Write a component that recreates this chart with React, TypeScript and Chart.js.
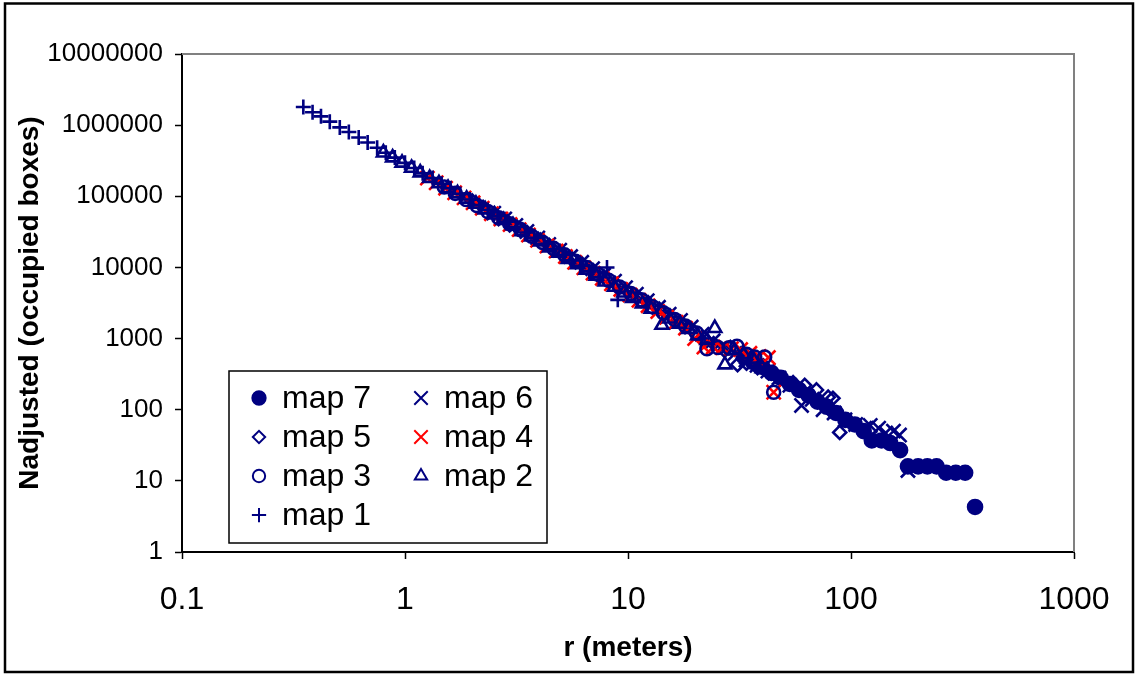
import React, { useEffect, useRef } from 'react';
import { Chart, registerables } from 'chart.js';
import { drawPoint } from 'chart.js/helpers';

Chart.register(...registerables);

const FONT = "'Liberation Sans', Arial, Helvetica, sans-serif";
const NAVY = '#000080';
const RED = '#FF0000';

const X_TICKS = [0.1, 1, 10, 100, 1000];
const Y_TICKS = [1, 10, 100, 1000, 10000, 100000, 1000000, 10000000];

const SERIES_LABELS = ['map 7', 'map 6', 'map 5', 'map 4', 'map 3', 'map 2', 'map 1'];

const MAP1_R = [0.35, 0.385, 0.42, 0.46, 0.51, 0.56, 0.62, 0.68, 0.75, 0.82, 0.9, 1.0, 1.1, 1.2, 1.33, 1.46, 1.6, 1.77, 1.95, 2.15, 2.35, 2.6, 2.85, 3.15, 3.45, 3.8, 4.2, 4.6, 5.1, 5.6, 6.1, 6.7, 7.4, 8.05, 9.0];
const MAP1_N = [1800000, 1520000, 1330000, 1120000, 930000, 800000, 670000, 570000, 480000, 410000, 350000, 295000, 250000, 210000, 180000, 150000, 130000, 108000, 90000, 75000, 64000, 53000, 44000, 37000, 31000, 26000, 21500, 18000, 15000, 12500, 10500, 8800, 7300, 10000, 3500];

const MAP2_R = [0.8, 0.88, 0.97, 1.07, 1.17, 1.29, 1.42, 1.56, 1.72, 1.89, 2.08, 2.29, 2.52, 2.77, 3.05, 3.35, 3.7, 4.05, 4.45, 4.9, 5.4, 5.95, 6.5, 7.2, 7.9, 8.7, 9.6, 10.5, 11.6, 12.7, 14.2, 15.4, 17, 18.7, 20.5, 22.6, 24.5, 27.2, 30, 33, 36.3, 40];
const MAP2_N = [410000, 350000, 295000, 250000, 215000, 180000, 152000, 130000, 110000, 92000, 78000, 65000, 55000, 46000, 39000, 32000, 27000, 23000, 19000, 16000, 13000, 11000, 9200, 7600, 6300, 5300, 4400, 3700, 3100, 2600, 1550, 1900, 1600, 1350, 1100, 950, 1400, 430, 680, 600, 520, 380];

const MAP3_R = [1.5, 1.68, 1.88, 2.1, 2.35, 2.63, 2.95, 3.3, 3.7, 4.14, 4.64, 5.2, 5.82, 6.52, 7.3, 8.18, 9.16, 10.3, 11.5, 12.9, 14.4, 16.2, 18.1, 20.3, 22.6, 25.3, 28.4, 30.8, 34, 37, 41, 45];
const MAP3_N = [135000, 110000, 90000, 74000, 61000, 50000, 41000, 34000, 27500, 22500, 18500, 15000, 12200, 10000, 8100, 6600, 5300, 4300, 3500, 2800, 2300, 1850, 1500, 1200, 720, 750, 740, 780, 600, 550, 550, 176];

const MAP4_R = [1.26, 1.38, 1.52, 1.67, 1.84, 2.02, 2.22, 2.44, 2.69, 2.96, 3.25, 3.58, 3.93, 4.33, 4.76, 5.24, 5.76, 6.34, 6.97, 7.67, 8.43, 9.28, 10.2, 11.2, 12.3, 13.6, 14.9, 16.4, 18.1, 19.9, 21.9, 24.1, 26.5, 29.1, 32, 35.2, 38.7, 42.6, 45];
const MAP4_N = [180000, 155000, 130000, 112000, 95000, 81000, 68000, 57000, 48000, 40000, 34000, 28500, 24000, 20000, 17000, 14200, 11800, 9900, 8300, 7000, 5900, 4900, 4100, 3450, 2900, 2400, 2000, 1700, 1400, 1000, 760, 760, 740, 720, 700, 620, 560, 540, 176];

const MAP5_R = [2.0, 2.24, 2.51, 2.81, 3.15, 3.53, 3.95, 4.43, 4.96, 5.55, 6.22, 6.96, 7.8, 8.73, 9.78, 11, 12.3, 13.8, 15.4, 17.2, 19.3, 21.6, 24.2, 27.1, 31, 34, 38.1, 42.7, 47.8, 55, 62, 70, 79, 83, 89];
const MAP5_N = [86000, 70000, 57000, 47000, 38000, 31000, 25000, 20500, 16800, 13700, 11200, 9100, 7400, 6000, 4900, 3900, 3200, 2600, 2100, 1700, 1350, 1050, 850, 680, 430, 450, 390, 330, 280, 240, 220, 190, 150, 145, 48];

const MAP6_R = [2.5, 2.8, 3.14, 3.52, 3.94, 4.41, 4.94, 5.53, 6.2, 6.94, 7.77, 8.7, 9.75, 10.9, 12.2, 13.7, 15.3, 17.2, 19.2, 21.5, 24.1, 27, 30.2, 33.8, 37.9, 42.4, 47.5, 53.2, 60, 67, 75, 84, 94, 105, 115, 122, 133, 143, 155, 165, 180];
const MAP6_N = [58000, 48000, 39000, 32000, 26000, 21000, 17500, 14200, 11800, 9600, 7800, 6400, 5200, 4200, 3400, 2750, 2200, 1800, 1450, 1150, 930, 760, 620, 500, 420, 350, 280, 220, 115, 140, 100, 90, 72, 62, 55, 60, 55, 47, 50, 44, 14];

const MAP7_R = [33, 36.3, 40, 44, 48.4, 53.2, 58.5, 64.4, 70.8, 77.9, 85.7, 94.3, 104, 114, 124, 137, 150, 166, 180, 200, 220, 242, 267, 295, 325, 360];
const MAP7_N = [560, 470, 400, 330, 280, 230, 190, 160, 130, 110, 90, 72, 62, 50, 37, 37, 34, 27, 16, 16, 16, 16, 13, 13, 13, 4.3];

function pts(r: number[], n: number[]) {
  return r.map((x, i) => ({ x, y: n[i] }));
}

function series(label: string, r: number[], n: number[], style: string, radius: number, color: string, fill: string, order: number) {
  return {
    label,
    data: pts(r, n),
    pointStyle: style,
    pointRadius: radius,
    pointHoverRadius: radius,
    pointBorderColor: color,
    pointBackgroundColor: fill,
    pointBorderWidth: 2.6,
    borderColor: color,
    backgroundColor: fill,
    showLine: false,
    order,
  };
}

const frameAndLegend = {
  id: 'frameAndLegend',
  beforeDatasetsDraw(chart: any) {
    const { ctx, chartArea: a } = chart;
    ctx.save();
    ctx.strokeStyle = '#808080';
    ctx.lineWidth = 2;
    ctx.beginPath();
    ctx.moveTo(a.left, a.top);
    ctx.lineTo(a.right, a.top);
    ctx.lineTo(a.right, a.bottom);
    ctx.stroke();
    ctx.restore();
  },
  afterDraw(chart: any) {
    const { ctx, chartArea: a } = chart;
    ctx.save();
    const left = a.left + 47;
    const top = a.bottom - 181;
    const w = 318;
    const h = 172;
    ctx.fillStyle = '#ffffff';
    ctx.fillRect(left, top, w, h);
    ctx.strokeStyle = '#000000';
    ctx.lineWidth = 1.5;
    ctx.strokeRect(left, top, w, h);
    ctx.font = `32px ${FONT}`;
    ctx.textBaseline = 'middle';
    ctx.textAlign = 'left';
    chart.data.datasets.forEach((ds: any, i: number) => {
      const col = i % 2;
      const row = Math.floor(i / 2);
      const mx = left + 30 + col * 162;
      const my = top + 27 + row * 39;
      ctx.fillStyle = ds.pointBackgroundColor;
      ctx.strokeStyle = ds.pointBorderColor;
      ctx.lineWidth = 2;
      drawPoint(ctx, { pointStyle: ds.pointStyle, radius: ds.pointRadius * 0.95, borderWidth: 2, rotation: 0 } as any, mx, my);
      ctx.fillStyle = '#000000';
      ctx.fillText(ds.label, mx + 23, my + 1);
    });
    ctx.strokeStyle = '#000000';
    ctx.lineWidth = 2.5;
    ctx.strokeRect(5, 3.5, 1128, 668.5);
    ctx.restore();
  },
};

export default function App() {
  const ref = useRef<HTMLCanvasElement>(null);

  useEffect(() => {
    document.body.style.margin = '0';
    const datasets = [
      series(SERIES_LABELS[0], MAP7_R, MAP7_N, 'circle', 7, NAVY, NAVY, 7),
      series(SERIES_LABELS[1], MAP6_R, MAP6_N, 'crossRot', 10, NAVY, 'transparent', 6),
      series(SERIES_LABELS[2], MAP5_R, MAP5_N, 'rectRot', 6.5, NAVY, 'transparent', 5),
      series(SERIES_LABELS[3], MAP4_R, MAP4_N, 'crossRot', 10, RED, 'transparent', 4),
      series(SERIES_LABELS[4], MAP3_R, MAP3_N, 'circle', 6.5, NAVY, 'transparent', 3),
      series(SERIES_LABELS[5], MAP2_R, MAP2_N, 'triangle', 7.5, NAVY, 'transparent', 2),
      series(SERIES_LABELS[6], MAP1_R, MAP1_N, 'cross', 7.5, NAVY, 'transparent', 1),
    ];

    const chart = new Chart(ref.current as HTMLCanvasElement, {
      type: 'scatter',
      data: { datasets } as any,
      options: {
        responsive: false,
        maintainAspectRatio: false,
        animation: false,
        devicePixelRatio: 1,
        events: [],
        layout: { padding: { top: 54, right: 62, bottom: 0, left: 0 } },
        plugins: {
          legend: { display: false },
          tooltip: { enabled: false },
        },
        scales: {
          x: {
            type: 'logarithmic',
            min: 0.1,
            max: 1000,
            afterBuildTicks: (s: any) => {
              s.ticks = X_TICKS.map((v) => ({ value: v }));
            },
            afterFit: (s: any) => {
              s.height = 123;
            },
            ticks: {
              callback: (v: any) => String(v),
              font: { family: FONT, size: 32 },
              color: '#000000',
              padding: 22,
              autoSkip: false,
              maxRotation: 0,
            },
            grid: { drawOnChartArea: false, drawTicks: true, tickLength: 7, tickColor: '#000000', tickWidth: 1.5 },
            border: { display: true, color: '#000000', width: 2 },
            title: {
              display: true,
              text: 'r (meters)',
              font: { family: FONT, size: 28, weight: 'bold' },
              color: '#000000',
              padding: { top: 0, bottom: 10 },
            },
          },
          y: {
            type: 'logarithmic',
            min: 1,
            max: 10000000,
            afterBuildTicks: (s: any) => {
              s.ticks = Y_TICKS.map((v) => ({ value: v }));
            },
            afterFit: (s: any) => {
              s.width = 182;
            },
            ticks: {
              callback: (v: any) => String(v),
              font: { family: FONT, size: 26 },
              color: '#000000',
              padding: 12,
              autoSkip: false,
            },
            grid: { drawOnChartArea: false, drawTicks: true, tickLength: 7, tickColor: '#000000', tickWidth: 1.5 },
            border: { display: true, color: '#000000', width: 2 },
            title: {
              display: true,
              text: 'Nadjusted (occupied boxes)',
              font: { family: FONT, size: 28, weight: 'bold' },
              color: '#000000',
              padding: { top: 13, bottom: 0 },
            },
          },
        },
      } as any,
      plugins: [frameAndLegend],
    });
    return () => chart.destroy();
  }, []);

  return (
    <div style={{ width: 1136, height: 675 }}>
      <canvas ref={ref} width={1136} height={675} style={{ display: 'block' }} />
    </div>
  );
}
